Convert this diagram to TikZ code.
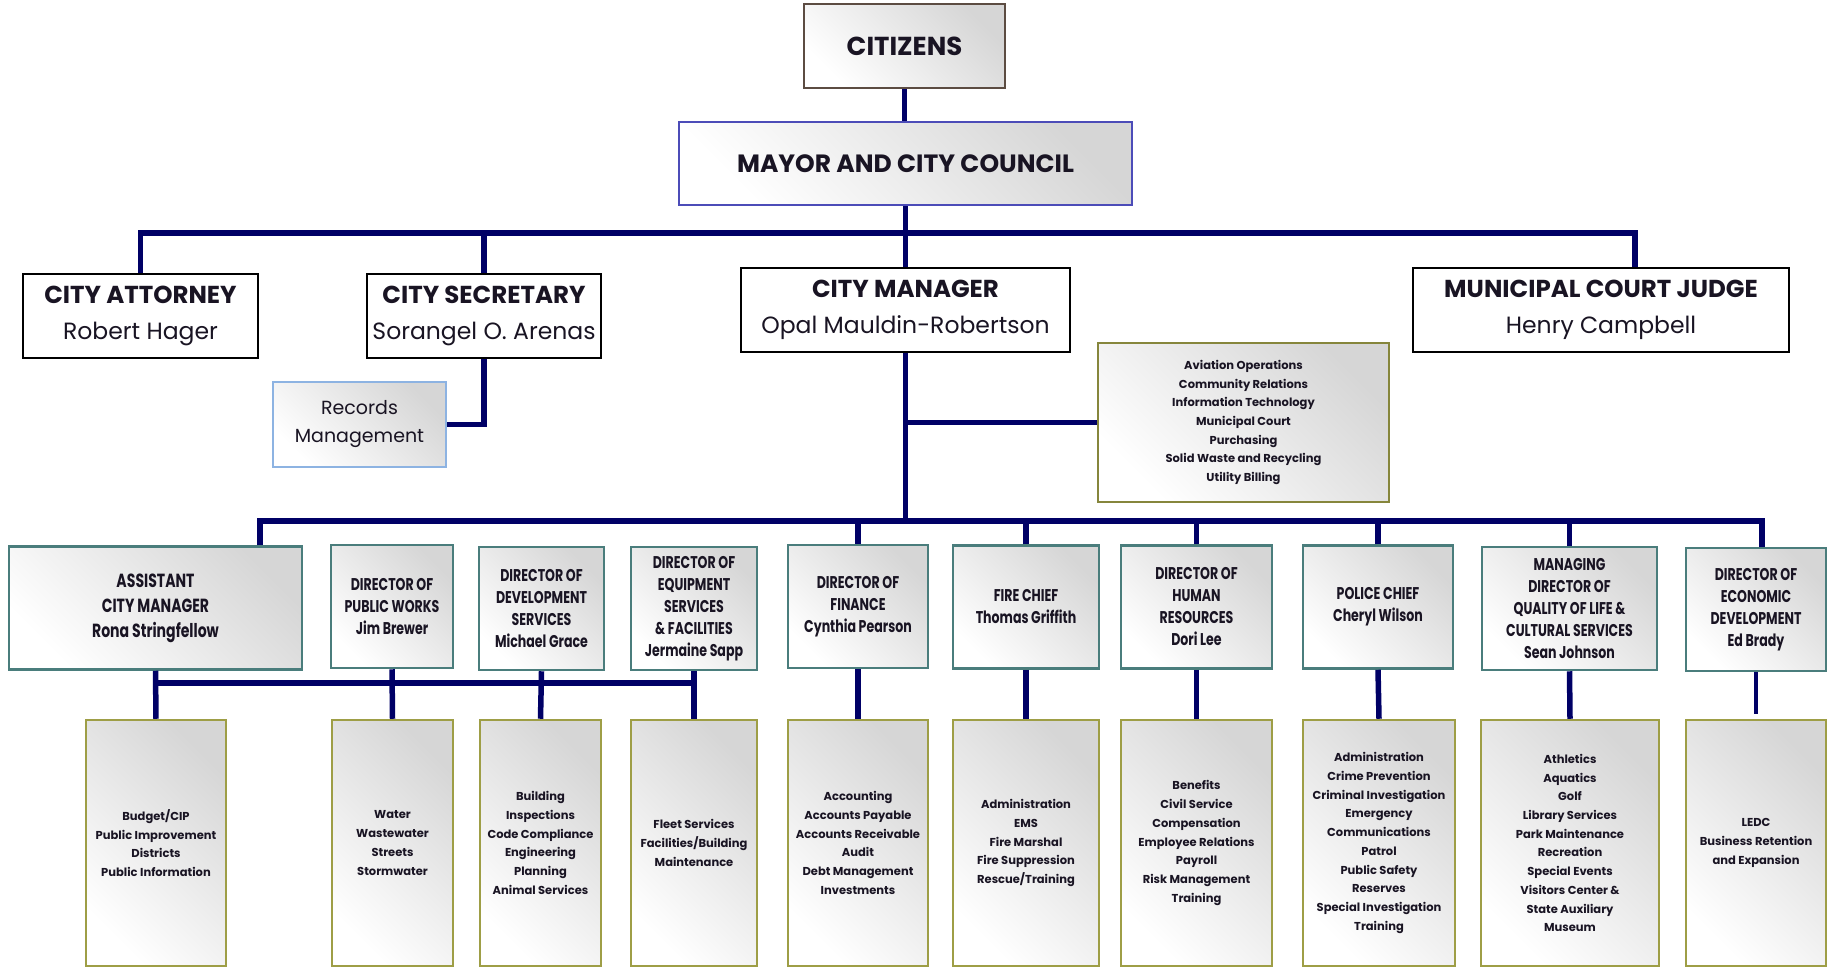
\documentclass[tikz,border=0pt]{standalone}
\usepackage{fontspec}
\setmainfont{Poppins}
\newfontfamily\headfont{Poppins}[FakeStretch=0.74]
\usetikzlibrary{positioning}
\definecolor{navyline}{RGB}{0,0,102}
\definecolor{citbrown}{RGB}{92,76,66}
\definecolor{councilblue}{RGB}{76,76,184}
\definecolor{recblue}{RGB}{141,179,226}
\definecolor{deptteal}{RGB}{74,125,124}
\definecolor{unitolive}{RGB}{158,158,70}
\definecolor{textdark}{RGB}{25,20,35}
\newcommand{\chiefname}[1]{{\normalfont\fontsize{23.5}{36}\selectfont #1}}

\begin{document}
\begin{tikzpicture}[x=1pt,y=1pt]
\tikzstyle{every node}+=[inner sep=0pt, text=textdark]
\tikzstyle{grad}=[top color=black!16, bottom color=white, shading angle=-45]
\tikzstyle{conn}=[navyline, line width=5.5pt]
\tikzstyle{chief}=[draw=black, line width=2pt, fill=white, align=center, minimum height=84pt, font=\bfseries\fontsize{24.5}{36}\selectfont]
\tikzstyle{dept}=[draw=deptteal, line width=2.5pt, grad, align=center, minimum height=123pt, font=\headfont\bfseries\fontsize{17}{22}\selectfont]
\tikzstyle{unit}=[draw=unitolive, line width=2.5pt, grad, align=center, minimum height=246pt, font=\bfseries\fontsize{11.5}{18.7}\selectfont]
\useasboundingbox (0,0) rectangle (1827,-969);
% top of the chart
\node[draw=citbrown, line width=2.5pt, grad, minimum width=201pt, minimum height=84pt, font=\bfseries\fontsize{26}{30}\selectfont] (citizens) at (904.5,-46) {CITIZENS};
\node[draw=councilblue, line width=2pt, grad, minimum width=453pt, minimum height=83pt, font=\bfseries\fontsize{25}{30}\selectfont] (council) at (905.5,-163.5) {MAYOR AND CITY COUNCIL};
\node[chief, minimum width=235pt] (attorney) at (140.5,-315.5) {CITY ATTORNEY\\\chiefname{Robert Hager}};
\node[chief, minimum width=234pt] (secretary) at (484,-315.5) {CITY SECRETARY\\\chiefname{Sorangel O. Arenas}};
\node[chief, minimum width=329pt] (manager) at (905.5,-310) {CITY MANAGER\\\chiefname{Opal Mauldin-Robertson}};
\node[chief, minimum width=376pt] (judge) at (1601,-310) {MUNICIPAL COURT JUDGE\\\chiefname{Henry Campbell}};
\node[draw=recblue, line width=2pt, grad, minimum width=173pt, minimum height=85pt, align=center, font=\fontsize{19}{28}\selectfont] (records) at (359.5,-424.5) {Records\\Management};
\node[draw=unitolive!85!black, line width=2.5pt, grad, minimum width=291pt, minimum height=159pt, align=center, font=\bfseries\fontsize{11.5}{18.7}\selectfont] (offices) at (1243.5,-422.5) {Aviation Operations\\Community Relations\\Information Technology\\Municipal Court\\Purchasing\\Solid Waste and Recycling\\Utility Billing};
% departments
\node[dept, minimum width=293pt, font=\headfont\bfseries\fontsize{19}{25}\selectfont] (asstcm) at (155.5,-608) {ASSISTANT\\CITY MANAGER\\Rona Stringfellow};
\node[dept, minimum width=122pt] (publicworks) at (392,-606.5) {DIRECTOR OF\\PUBLIC WORKS\\Jim Brewer};
\node[dept, minimum width=125pt] (devserv) at (541.5,-608.5) {DIRECTOR OF\\DEVELOPMENT\\SERVICES\\Michael Grace};
\node[dept, minimum width=126pt] (equipserv) at (694,-608.5) {DIRECTOR OF\\EQUIPMENT\\SERVICES\\\& FACILITIES\\Jermaine Sapp};
\node[dept, minimum width=140pt] (finance) at (858,-606.5) {DIRECTOR OF\\FINANCE\\Cynthia Pearson};
\node[dept, minimum width=146pt] (fire) at (1026,-607) {FIRE CHIEF\\Thomas Griffith};
\node[dept, minimum width=151pt] (hr) at (1196.5,-607) {DIRECTOR OF\\HUMAN\\RESOURCES\\Dori Lee};
\node[dept, minimum width=150pt] (police) at (1378,-607) {POLICE CHIEF\\Cheryl Wilson};
\node[dept, minimum width=175pt] (culture) at (1569.5,-608.5) {MANAGING\\DIRECTOR OF\\QUALITY OF LIFE \&\\CULTURAL SERVICES\\Sean Johnson};
\node[dept, minimum width=140pt] (econdev) at (1756,-609.5) {DIRECTOR OF\\ECONOMIC\\DEVELOPMENT\\Ed Brady};
% divisions
\node[unit, minimum width=140pt] (budget) at (156,-843) {Budget/CIP\\Public Improvement\\Districts\\Public Information};
\node[unit, minimum width=121pt] (utilities) at (392.5,-843) {Water\\Wastewater\\Streets\\Stormwater};
\node[unit, minimum width=121pt] (inspect) at (540.5,-843) {Building\\Inspections\\Code Compliance\\Engineering\\Planning\\Animal Services};
\node[unit, minimum width=126pt] (fleet) at (694,-843) {Fleet Services\\Facilities/Building\\Maintenance};
\node[unit, minimum width=140pt] (accounting) at (858,-843) {Accounting\\Accounts Payable\\Accounts Receivable\\Audit\\Debt Management\\Investments};
\node[unit, minimum width=146pt] (firedivs) at (1026,-843) {Administration\\EMS\\Fire Marshal\\Fire Suppression\\Rescue/Training};
\node[unit, minimum width=151pt] (hrdivs) at (1196.5,-843) {Benefits\\Civil Service\\Compensation\\Employee Relations\\Payroll\\Risk Management\\Training};
\node[unit, minimum width=152pt] (policedivs) at (1379,-843) {Administration\\Crime Prevention\\Criminal Investigation\\Emergency\\Communications\\Patrol\\Public Safety\\Reserves\\Special Investigation\\Training};
\node[unit, minimum width=178pt] (culturedivs) at (1570,-843) {Athletics\\Aquatics\\Golf\\Library Services\\Park Maintenance\\Recreation\\Special Events\\Visitors Center \&\\State Auxiliary\\Museum};
\node[unit, minimum width=140pt] (ledc) at (1756,-843) {LEDC\\Business Retention\\and Expansion};
% connectors
\coordinate (topbus) at (1635,-233);
\coordinate (lowbus) at (1762,-521);
\coordinate (acmdrop) at (260,-521);
\coordinate (subbus) at (0,-683);
\draw[conn] (citizens.south) -- (citizens.south |- council.north);
\draw[conn] (council.south) -- (council.south |- manager.north);
\draw[conn] (attorney.north) |- (topbus) -- (topbus |- judge.north);
\draw[conn] (secretary.north) -- (secretary.north |- topbus);
\draw[conn] (secretary.south) |- (records.east);
\draw[conn] (manager.south) -- (manager.south |- lowbus);
\draw[conn] (manager.south |- offices.west) -- (offices.west);
\draw[conn] (asstcm.north -| acmdrop) -- (acmdrop) -- (lowbus) -- (lowbus |- econdev.north);
\foreach \d in {finance,fire,hr,police,culture}
  \draw[conn] (\d.north) -- (\d.north |- lowbus);
\foreach \d/\u in {asstcm/budget,publicworks/utilities,devserv/inspect,equipserv/fleet,finance/accounting,fire/firedivs,hr/hrdivs,police/policedivs,culture/culturedivs}
  \draw[conn] (\d.south) -- (\u.north);
\draw[conn] (asstcm.south |- subbus) -- (equipserv.south |- subbus);
\draw[conn, line width=3.5pt, shorten >=5pt] (econdev.south) -- (ledc.north);
\end{tikzpicture}
\end{document}
